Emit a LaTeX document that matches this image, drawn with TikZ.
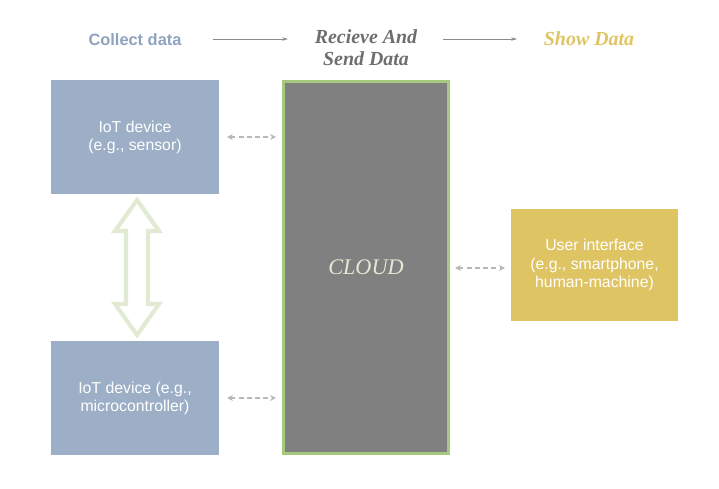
\documentclass[tikz,border=0pt]{standalone}
\usepackage{fontspec}
\setmainfont{Liberation Serif}
\setsansfont{Liberation Sans}
\definecolor{devblue}{HTML}{9DAFC6}
\definecolor{cloudgray}{HTML}{808080}
\definecolor{cloudgreen}{HTML}{A6C97E}
\definecolor{uiyellow}{HTML}{DFC463}
\definecolor{headblue}{HTML}{8FA3BF}
\definecolor{headgray}{HTML}{6E6E6E}
\definecolor{headyellow}{HTML}{E0C462}
\definecolor{linkgray}{HTML}{B8B8B8}
\definecolor{arrowgreen}{HTML}{E1EAD2}
\tikzset{
  devbox/.style={fill=devblue, minimum width=168*0.03cm, minimum height=114*0.03cm, inner sep=0pt,
    text=white, align=center, font=\sffamily\fontsize{13.5}{15.5}\selectfont},
  link/.style={draw=linkgray, dash pattern=on 4pt off 3pt, line width=1pt, {Stealth[length=5pt,width=5pt]}-{Stealth[length=5pt,width=5pt]}},
  flow/.style={draw=headgray!80, line width=0.6pt, -{Stealth[length=5pt,width=3pt]}},
}
\usetikzlibrary{arrows.meta}
\begin{document}
\begin{tikzpicture}[x=0.03cm, y=-0.03cm]
\useasboundingbox (0,0) rectangle (719,489);
% headings
\node[font=\sffamily\bfseries\fontsize{14}{16}\selectfont, text=headblue] (collect) at (135,40) {Collect data};
\node[font=\bfseries\itshape\fontsize{17}{19}\selectfont, text=headgray, align=center] (receive) at (366,48) {Recieve And\\Send Data};
\node[font=\bfseries\itshape\fontsize{17}{19}\selectfont, text=headyellow] (show) at (589,39) {Show Data};
\coordinate (f1a) at (213,39);
\coordinate (f1b) at (288,39);
\coordinate (f2a) at (443,39);
\coordinate (f2b) at (517,39);
\draw[flow] (f1a) -- (f1b);
\draw[flow] (f2a) -- (f2b);
% boxes
\node[devbox] (dev1) at (135,137.5) {IoT device\\(e.g., sensor)};
\node[devbox] (dev2) at (135,398) {IoT device (e.g.,\\microcontroller)};
\node[draw=cloudgreen, fill=cloudgray, line width=2.5pt, minimum width=165*0.03cm, minimum height=372*0.03cm, inner sep=0pt,
  text=arrowgreen, font=\itshape\fontsize{19}{22}\selectfont] (cloud) at (366,267.5) {CLOUD};
\node[devbox, fill=uiyellow, minimum width=167*0.03cm, minimum height=112*0.03cm] (ui) at (594.5,265) {User interface\\(e.g., smartphone,\\human-machine)};
% links to cloud
\coordinate (l1a) at (227,137);
\coordinate (l1b) at (276,137);
\coordinate (l2a) at (227,398);
\coordinate (l2b) at (276,398);
\coordinate (l3a) at (455,268);
\coordinate (l3b) at (505,268);
\draw[link] (l1a) -- (l1b);
\draw[link] (l2a) -- (l2b);
\draw[link] (l3a) -- (l3b);
% hollow double arrow between devices
\draw[draw=arrowgreen, line width=3.5pt, line join=miter]
  (137,200) -- (159,231) -- (148,231) -- (148,304) -- (159,304) -- (137,335)
  -- (115,304) -- (126,304) -- (126,231) -- (115,231) -- cycle;
\end{tikzpicture}
\end{document}
